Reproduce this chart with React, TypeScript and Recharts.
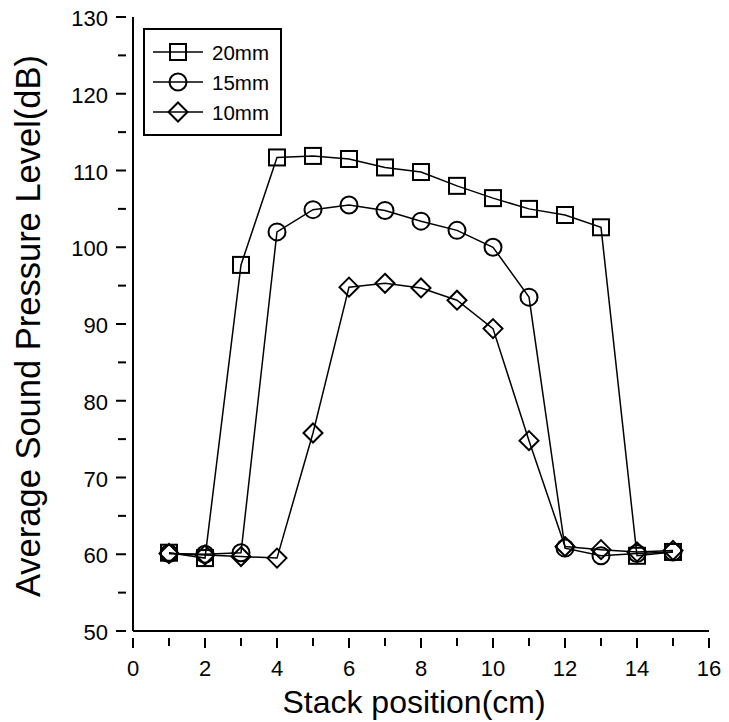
import { LineChart, Line, XAxis, YAxis } from 'recharts'

const positions = [1, 2, 3, 4, 5, 6, 7, 8, 9, 10, 11, 12, 13, 14, 15]
const spl20 = [60.2, 59.5, 97.7, 111.7, 111.9, 111.5, 110.4, 109.8, 108.0, 106.4, 105.0, 104.2, 102.6, 59.8, 60.3]
const spl15 = [60.1, 60.0, 60.2, 102.0, 104.9, 105.5, 104.8, 103.4, 102.2, 100.0, 93.5, 60.8, 59.8, 60.1, 60.3]
const spl10 = [60.1, 59.9, 59.7, 59.5, 75.8, 94.8, 95.3, 94.7, 93.1, 89.4, 74.8, 61.0, 60.6, 60.3, 60.5]

const xTicks = [0, 1, 2, 3, 4, 5, 6, 7, 8, 9, 10, 11, 12, 13, 14, 15, 16]
const yTicks = [50, 55, 60, 65, 70, 75, 80, 85, 90, 95, 100, 105, 110, 115, 120, 125, 130]

const seriesNames = ['20mm', '15mm', '10mm']

const data = positions.map((p, i) => ({ x: p, s20: spl20[i], s15: spl15[i], s10: spl10[i] }))

const FONT = 'Liberation Sans, Arial, sans-serif'

const Square = ({ cx, cy }: any) => (
  <rect x={cx - 8} y={cy - 8} width={16} height={16} fill="none" stroke="#000" strokeWidth={2} />
)
const Circle = ({ cx, cy }: any) => <circle cx={cx} cy={cy} r={8.5} fill="none" stroke="#000" strokeWidth={2} />
const Diamond = ({ cx, cy }: any) => (
  <path d={`M${cx},${cy - 9.5} L${cx + 9.5},${cy} L${cx},${cy + 9.5} L${cx - 9.5},${cy} Z`} fill="none" stroke="#000" strokeWidth={2} />
)

const markers = [Square, Circle, Diamond]

const XTick = ({ x, y, payload }: any) => {
  const major = payload.value % 2 === 0
  return (
    <g>
      <line x1={x} x2={x} y1={y - 1} y2={y + (major ? 9 : 7)} stroke="#000" strokeWidth={2} />
      {major && (
        <text x={x} y={y + 37} textAnchor="middle" fontSize={22} fontFamily={FONT} fill="#000">
          {payload.value}
        </text>
      )}
    </g>
  )
}

const YTick = ({ x, y, payload }: any) => {
  const major = payload.value % 10 === 0
  return (
    <g>
      <line x1={x + 1} x2={x - (major ? 9 : 7)} y1={y} y2={y} stroke="#000" strokeWidth={2} />
      {major && (
        <text x={x - 17} y={y + 9} textAnchor="end" fontSize={22} fontFamily={FONT} fill="#000">
          {payload.value}
        </text>
      )}
    </g>
  )
}

const YLabel = () => (
  <text x={32} y={318} transform="rotate(-90 32 318)" textAnchor="middle" fontSize={34.5} fontFamily={FONT} fill="#000">
    Average Sound Pressure Level(dB)
  </text>
)

const XLabel = () => (
  <text x={406} y={705} textAnchor="middle" fontSize={32} fontFamily={FONT} fill="#000">
    Stack position(cm)
  </text>
)

const LegendBox = () => (
  <svg width={140} height={109} style={{ display: 'block' }}>
    <rect x={1} y={1} width={137} height={106} fill="#fff" stroke="#000" strokeWidth={2} />
    {seriesNames.map((name, i) => {
      const Mk = markers[i]
      const cy = 24 + i * 30
      return (
        <g key={name}>
          <line x1={10} x2={60} y1={cy} y2={cy} stroke="#000" strokeWidth={1.5} />
          <Mk cx={35} cy={cy} />
          <text x={69} y={cy + 7.5} fontSize={20.5} fontFamily={FONT} fill="#000">
            {name}
          </text>
        </g>
      )
    })}
  </svg>
)

export default function App() {
  return (
    <div style={{ width: 721, height: 714, position: 'relative', background: '#fff' }}>
      <style>{'html,body{overflow:hidden}.recharts-surface{overflow:visible}'}</style>
      <LineChart width={721} height={714} data={data} margin={{ top: 9, right: 20, left: 0, bottom: 0 }}>
        <XAxis
          dataKey="x"
          type="number"
          domain={[0, 16]}
          ticks={xTicks}
          interval={0}
          tick={<XTick />}
          tickLine={false}
          axisLine={{ stroke: '#000', strokeWidth: 2 }}
          height={91}
          label={<XLabel />}
        />
        <YAxis
          type="number"
          domain={[50, 130]}
          ticks={yTicks}
          interval={0}
          tick={<YTick />}
          tickLine={false}
          axisLine={{ stroke: '#000', strokeWidth: 2 }}
          width={125}
          label={<YLabel />}
        />
        <XAxis xAxisId="top" orientation="top" type="number" domain={[0, 16]} tick={false} tickLine={false} axisLine={{ stroke: '#000', strokeWidth: 2 }} height={0} />
        <YAxis yAxisId="right" orientation="right" type="number" domain={[50, 130]} tick={false} tickLine={false} axisLine={{ stroke: '#000', strokeWidth: 2 }} width={0} />
        <Line dataKey="s20" stroke="#000" strokeWidth={1.5} dot={<Square />} isAnimationActive={false} />
        <Line dataKey="s15" stroke="#000" strokeWidth={1.5} dot={<Circle />} isAnimationActive={false} />
        <Line dataKey="s10" stroke="#000" strokeWidth={1.5} dot={<Diamond />} isAnimationActive={false} />
      </LineChart>
      <div style={{ position: 'absolute', left: 135, top: 20 }}>
        <LegendBox />
      </div>
    </div>
  )
}
